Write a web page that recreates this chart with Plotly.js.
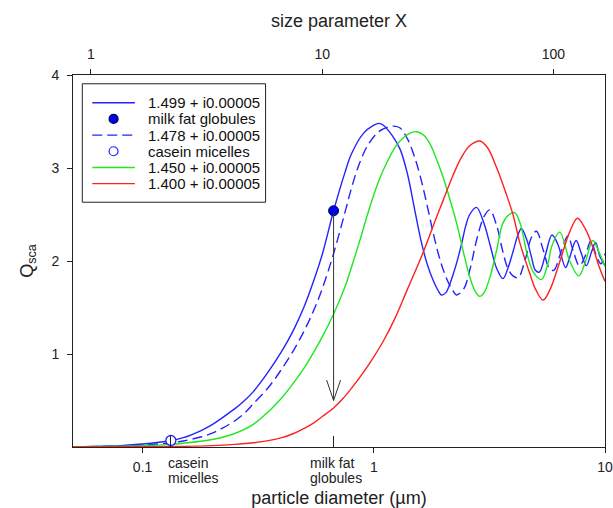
<!DOCTYPE html>
<html><head><meta charset="utf-8">
<script src="https://cdn.plot.ly/plotly-3.0.1.min.js"></script>
<style>html,body{margin:0;padding:0;background:#fff}#chart{width:613px;height:508px}</style>
</head><body><div id="chart"></div>
<script>
// ---- data ----
const seriesNames = ['1.499 + i0.00005', '1.478 + i0.00005', '1.450 + i0.00005', '1.400 + i0.00005'];

const d1499 = [0.05,0.06,0.08,0.1,0.1325,0.15,0.18,0.2,0.22,0.25,0.273,0.3,0.35,0.4,0.45,0.5,0.55,0.6,0.67,0.75,0.8,0.9,1.0,1.05,1.1,1.2,1.3,1.4,1.5,1.6,1.7,1.8,1.9,1.96,2.05,2.1,2.2,2.3,2.4,2.5,2.6,2.78,3.0,3.2,3.4,3.62,3.8,4.0,4.2,4.35,4.6,4.8,5.0,5.2,5.5,5.9,6.25,6.75,7.0,7.5,7.9,8.3,8.75,9.1,9.5,10];
const q1499 = [0.003,0.006,0.015,0.032,0.07,0.1,0.18,0.24,0.31,0.41,0.49,0.59,0.81,1.03,1.26,1.51,1.79,2.08,2.54,2.95,3.15,3.37,3.46,3.48,3.46,3.35,3.20,2.93,2.56,2.22,1.97,1.80,1.68,1.635,1.66,1.71,1.85,2.01,2.19,2.38,2.50,2.576,2.40,2.15,1.92,1.81,1.92,2.10,2.28,2.35,2.22,2.05,1.90,1.88,2.05,2.28,2.18,1.93,2.02,2.22,2.08,1.95,2.10,2.20,2.05,1.95];

const d1478 = [0.05,0.08,0.1,0.1325,0.15,0.18,0.2,0.22,0.25,0.28,0.3,0.35,0.4,0.45,0.5,0.55,0.6,0.67,0.75,0.8,0.87,0.95,1.05,1.15,1.224,1.3,1.4,1.5,1.6,1.7,1.8,1.9,2.0,2.1,2.2,2.278,2.45,2.6,2.8,3.0,3.17,3.4,3.6,3.8,4.0,4.21,4.5,4.8,5.05,5.4,5.75,6.0,6.5,6.9,7.3,7.75,8.2,8.7,9.1,9.6,10];
const q1478 = [0.002,0.01,0.02,0.045,0.065,0.11,0.15,0.2,0.28,0.38,0.46,0.64,0.84,1.04,1.25,1.47,1.71,2.08,2.52,2.78,3.06,3.26,3.39,3.44,3.45,3.43,3.31,3.12,2.88,2.6,2.32,2.08,1.9,1.77,1.68,1.635,1.7,1.9,2.25,2.48,2.55,2.38,2.12,1.92,1.84,1.82,2.0,2.25,2.32,2.12,1.92,1.90,2.12,2.27,2.10,1.95,2.05,2.22,2.08,1.97,2.08];

const d1450 = [0.05,0.1,0.1325,0.15,0.2,0.25,0.3,0.35,0.394,0.45,0.5,0.55,0.6,0.67,0.75,0.8,0.87,0.95,1.05,1.15,1.25,1.35,1.45,1.54,1.65,1.75,1.85,1.994,2.1,2.28,2.45,2.6,2.75,2.873,3.0,3.2,3.4,3.62,3.85,4.07,4.3,4.63,4.9,5.31,5.7,5.87,6.37,7.04,7.7,8.2,8.86,9.4,10];
const q1450 = [0.001,0.013,0.028,0.04,0.08,0.145,0.24,0.38,0.51,0.69,0.85,1.02,1.19,1.43,1.72,1.93,2.22,2.54,2.86,3.08,3.24,3.33,3.38,3.39,3.35,3.26,3.12,2.9,2.72,2.41,2.08,1.83,1.67,1.62,1.66,1.85,2.12,2.41,2.50,2.52,2.40,2.05,1.88,1.80,2.0,2.15,2.31,2.0,1.84,1.98,2.22,2.1,1.94];

const d1400 = [0.05,0.1,0.15,0.2,0.25,0.3,0.35,0.4,0.45,0.5,0.55,0.6,0.67,0.729,0.8,0.9,1.0,1.1,1.233,1.4,1.628,1.867,2.0,2.2,2.4,2.6,2.873,3.1,3.39,3.74,4.0,4.277,4.72,5.0,5.4,5.8,6.2,6.58,7.0,7.6,8.2,8.86,9.4,10];
const q1400 = [0.0,0.002,0.007,0.015,0.028,0.045,0.068,0.1,0.145,0.2,0.26,0.33,0.42,0.51,0.63,0.8,0.97,1.14,1.38,1.7,2.08,2.47,2.66,2.92,3.12,3.24,3.29,3.22,3.01,2.72,2.5,2.2,1.87,1.7,1.58,1.7,1.9,2.1,2.3,2.46,2.35,2.15,1.95,1.78];

const particleNames = ['milk fat globules', 'casein micelles'];
const particleD = [0.67, 0.1325];
const particleQ = [2.54, 0.07];
const particleLabelTop = ['milk fat', 'casein'];
const particleLabelBottom = ['globules', 'micelles'];
const arrowTipQ = 0.5;

const diameterRange = [0.05, 10];
const sizeParamPerMicron = 16.72;   // X = 16.72 * d
const diameterTicks = [0.1, 1, 10];
const sizeParamTicks = [1, 10, 100];
const qTicks = [1, 2, 3, 4];
const qRange = [0, 4];

// ---- styling ----
const FONT = 'Liberation Sans, Arial, sans-serif';
const BLUE = '#2323ff', GREEN = '#1ee81e', RED = '#ff2020', AX = '#222';
const MILK_FILL = '#0000ee', MILK_EDGE = '#000055';
const lg = Math.log10;
const DASH = '10px,5px';

const traces = [
  {x: d1499, y: q1499, name: seriesNames[0], mode: 'lines', line: {color: BLUE, width: 1.4, shape: 'spline'}},
  {x: d1478, y: q1478, name: seriesNames[1], mode: 'lines', line: {color: BLUE, width: 1.4, dash: DASH, shape: 'spline'}},
  {x: d1450, y: q1450, name: seriesNames[2], mode: 'lines', line: {color: GREEN, width: 1.4, shape: 'spline'}},
  {x: d1400, y: q1400, name: seriesNames[3], mode: 'lines', line: {color: RED, width: 1.4, shape: 'spline'}},
  {x: [particleD[0]], y: [particleQ[0]], name: particleNames[0], mode: 'markers',
   marker: {color: MILK_FILL, size: 10, line: {color: MILK_EDGE, width: 1}}},
  {x: [particleD[1]], y: [particleQ[1]], name: particleNames[1], mode: 'markers',
   marker: {color: '#ffffff', size: 10, line: {color: BLUE, width: 1.3}}},
  // carriers so the top size-parameter axis and the particle tick axis get drawn
  {x: diameterRange.map(d => d * sizeParamPerMicron), y: qRange, xaxis: 'x2', mode: 'markers',
   marker: {opacity: 0}, hoverinfo: 'skip'},
  {x: particleD, y: particleQ, xaxis: 'x3', mode: 'markers', marker: {opacity: 0}, hoverinfo: 'skip'}
];
traces.forEach(t => t.showlegend = false);

// ---- hand-drawn legend (box, samples, labels) ----
const legendItems = [
  {label: seriesNames[0], kind: 'line', color: BLUE, dash: 'solid'},
  {label: particleNames[0], kind: 'dot', fill: MILK_FILL, edge: MILK_EDGE},
  {label: seriesNames[1], kind: 'line', color: BLUE, dash: DASH},
  {label: particleNames[1], kind: 'dot', fill: '#ffffff', edge: BLUE},
  {label: seriesNames[2], kind: 'line', color: GREEN, dash: 'solid'},
  {label: seriesNames[3], kind: 'line', color: RED, dash: 'solid'}
];
const LEG = {x0: 0.0175, x1: 0.362, y0: 0.658, y1: 0.9764, s0: 0.0362, s1: 0.1164, tx: 0.1371,
             rowTop: 0.9255, rowStep: 0.0435};
const shapes = [{type: 'rect', xref: 'paper', yref: 'paper', x0: LEG.x0, x1: LEG.x1, y0: LEG.y0, y1: LEG.y1,
  line: {color: AX, width: 1}, fillcolor: '#fff', layer: 'above'}];
const annotations = [];
legendItems.forEach((it, i) => {
  const yy = LEG.rowTop - i * LEG.rowStep;
  if (it.kind === 'line') {
    shapes.push({type: 'line', xref: 'paper', yref: 'paper', x0: LEG.s0, x1: LEG.s1, y0: yy, y1: yy,
      line: {color: it.color, width: 1.4, dash: it.dash}, layer: 'above'});
  } else {
    shapes.push({type: 'circle', xref: 'paper', yref: 'paper', xsizemode: 'pixel', ysizemode: 'pixel',
      xanchor: (LEG.s0 + LEG.s1) / 2, yanchor: yy, x0: -4.5, x1: 4.5, y0: -4.5, y1: 4.5,
      fillcolor: it.fill, line: {color: it.edge, width: 1.2}, layer: 'above'});
  }
  annotations.push({xref: 'paper', yref: 'paper', x: LEG.tx, y: yy, xanchor: 'left', yanchor: 'middle',
    text: it.label, showarrow: false, font: {family: FONT, size: 15, color: '#111'}});
});

// arrow shaft from milk-fat marker down, plus open V head
annotations.push({x: lg(particleD[0]), y: arrowTipQ, ax: lg(particleD[0]), ay: particleQ[0],
  xref: 'x', yref: 'y', axref: 'x', ayref: 'y', text: '', showarrow: true,
  arrowhead: 0, arrowwidth: 1, arrowcolor: '#333', standoff: 0, startstandoff: 0});
[-7.5, 7.5].forEach(dx => annotations.push({x: lg(particleD[0]), y: arrowTipQ, ax: dx, ay: -22,
  xref: 'x', yref: 'y', text: '', showarrow: true, arrowhead: 0, arrowwidth: 1, arrowcolor: '#333'}));

// particle labels under the axis
const labelShift = [-26, -5];
particleD.forEach((d, i) => {
  annotations.push({x: lg(d), y: 0, xref: 'x', yref: 'paper', xanchor: 'left', yanchor: 'top',
    xshift: labelShift[i], yshift: -6, text: particleLabelTop[i], showarrow: false,
    font: {family: FONT, size: 14, color: '#222'}});
  annotations.push({x: lg(d), y: 0, xref: 'x', yref: 'paper', xanchor: 'left', yanchor: 'top',
    xshift: labelShift[i], yshift: -21, text: particleLabelBottom[i], showarrow: false,
    font: {family: FONT, size: 14, color: '#222'}});
});

const logRange = diameterRange.map(lg);
const layout = {
  width: 613, height: 508,
  margin: {l: 73, r: 7.5, t: 74.5, b: 60.5},
  paper_bgcolor: '#fff', plot_bgcolor: '#fff',
  font: {family: FONT, size: 14, color: '#222'},
  showlegend: false,
  xaxis: {type: 'log', range: logRange, tickvals: diameterTicks, ticktext: diameterTicks.map(String),
    ticks: 'outside', ticklen: 5, tickcolor: AX, showline: true, linecolor: AX, linewidth: 1,
    showgrid: false, zeroline: false, tickfont: {size: 14}, ticklabelstandoff: 2,
    title: {text: 'particle diameter (µm)', font: {size: 18}, standoff: 19}},
  xaxis2: {type: 'log', overlaying: 'x', side: 'top', anchor: 'y',
    range: diameterRange.map(d => lg(d * sizeParamPerMicron)),
    tickvals: sizeParamTicks, ticktext: sizeParamTicks.map(String),
    ticks: 'outside', ticklen: 5, tickcolor: AX, showline: true, linecolor: AX, linewidth: 1,
    showgrid: false, zeroline: false, tickfont: {size: 14}, ticklabelstandoff: 4,
    title: {text: 'size parameter X', font: {size: 18}, standoff: 14}},
  xaxis3: {type: 'log', overlaying: 'x', side: 'bottom', anchor: 'y', range: logRange,
    tickvals: particleD, ticks: 'inside', ticklen: 11, tickcolor: AX, showticklabels: false,
    showline: false, showgrid: false, zeroline: false},
  yaxis: {range: qRange, tickvals: qTicks, ticktext: qTicks.map(String), ticks: 'outside', ticklen: 5,
    tickcolor: AX, showline: true, mirror: true, linecolor: AX, linewidth: 1, ticklabelstandoff: 5,
    showgrid: false, zeroline: false, tickfont: {size: 14},
    title: {text: 'Q<sub>sca</sub>', font: {size: 18}, standoff: 13}},
  shapes: shapes,
  annotations: annotations
};

Plotly.newPlot('chart', traces, layout, {displayModeBar: false, staticPlot: true});
</script>
</body></html>
